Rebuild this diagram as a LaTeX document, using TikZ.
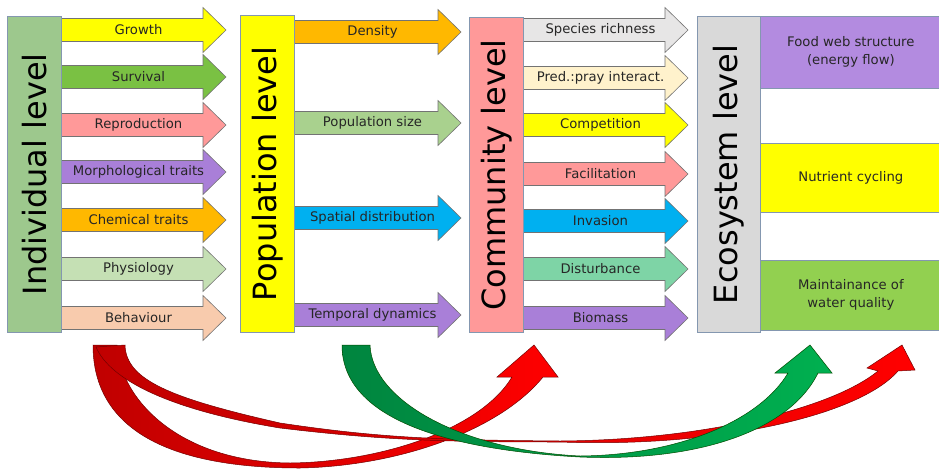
\documentclass[tikz,border=0pt]{standalone}
\usepackage{fontspec}
\setmainfont{DejaVu Sans}
\definecolor{cIndiv}{HTML}{9DC88D}
\definecolor{cPop}{HTML}{FFFF00}
\definecolor{cComm}{HTML}{FF9999}
\definecolor{cEco}{HTML}{D9D9D9}
\definecolor{cYellow}{HTML}{FFFF00}
\definecolor{cSurv}{HTML}{7AC143}
\definecolor{cSalmon}{HTML}{FF9999}
\definecolor{cPurple}{HTML}{A97FD8}
\definecolor{cOrange}{HTML}{FFB800}
\definecolor{cPhys}{HTML}{C5E0B4}
\definecolor{cPeach}{HTML}{F8CBAD}
\definecolor{cPopSize}{HTML}{A9D18E}
\definecolor{cBlue}{HTML}{00B0F0}
\definecolor{cGray}{HTML}{E7E6E6}
\definecolor{cCream}{HTML}{FFF2CC}
\definecolor{cDist}{HTML}{7ED4A6}
\definecolor{cFood}{HTML}{B38BE0}
\definecolor{cWater}{HTML}{92D050}
\definecolor{cBoxLine}{HTML}{8497B0}
\definecolor{cRedDark}{HTML}{C00000}
\definecolor{cRed}{HTML}{FF0000}
\definecolor{cGreenDark}{HTML}{00853F}
\definecolor{cGreen}{HTML}{00B050}
\tikzset{
  arr/.style={draw=black!55, line width=0.6pt},
  lbl/.style={font=\fontsize{13.2}{15}\selectfont, text=black!85, inner sep=0pt},
  lvlbox/.style={draw=cBoxLine, line width=0.7pt, inner sep=0pt, anchor=north west},
  lvltxt/.style={rotate=90, font=\fontsize{32}{36}\selectfont, inner sep=0pt},
  ecobox/.style={draw=cBoxLine, line width=0.7pt, anchor=north west, minimum width=181pt,
     align=center, font=\fontsize{13.2}{18}\selectfont, text=black!85, inner sep=0pt},
  redband/.style={left color=cRedDark, right color=cRed, draw=red!45!black, line width=0.5pt},
  greenband/.style={left color=cGreenDark, right color=cGreen, draw=green!30!black, line width=0.5pt},
}
% #1 name, #2 y centre, #3 x left, #4 x tip, #5 colour, #6 label
\newcommand\lvlarrow[6]{%
  \filldraw[arr, fill=#5] (#3,#2-11.5) -- (#4-23,#2-11.5) -- (#4-23,#2-22.5) -- (#4,#2)
     -- (#4-23,#2+22.5) -- (#4-23,#2+11.5) -- (#3,#2+11.5) -- cycle;
  \node[lbl] (#1) at ({(#3+#4)/2-5},#2) {#6};}
\begin{document}
\begin{tikzpicture}[x=1pt,y=-1pt]
\useasboundingbox (0,0) rectangle (939,469);
\fill[white] (0,0) rectangle (939,469);

% ---------- Individual level ----------
\lvlarrow{growth}{30}{61}{226}{cYellow}{Growth}
\lvlarrow{survival}{77}{61}{226}{cSurv}{Survival}
\lvlarrow{repro}{125}{61}{226}{cSalmon}{Reproduction}
\lvlarrow{morph}{172}{61}{226}{cPurple}{Morphological traits}
\lvlarrow{chem}{220}{61}{226}{cOrange}{Chemical traits}
\lvlarrow{phys}{269}{61}{226}{cPhys}{Physiology}
\lvlarrow{behav}{318}{61}{226}{cPeach}{Behaviour}
\node[lvlbox, fill=cIndiv, minimum width=54pt, minimum height=316pt] (indiv) at (7,16) {};
\node[lvltxt] (indivtxt) at (indiv.center) {Individual level};

% ---------- Population level ----------
\lvlarrow{density}{32}{294}{461}{cOrange}{Density}
\lvlarrow{popsize}{123}{294}{461}{cPopSize}{Population size}
\lvlarrow{spatial}{218}{294}{461}{cBlue}{Spatial distribution}
\lvlarrow{temporal}{315}{294}{461}{cPurple}{Temporal dynamics}
\node[lvlbox, fill=cPop, minimum width=54pt, minimum height=317pt] (pop) at (240,15) {};
\node[lvltxt] (poptxt) at (pop.center) {Population level};

% ---------- Community level ----------
\lvlarrow{species}{30}{523}{688}{cGray}{Species richness}
\lvlarrow{pred}{78}{523}{688}{cCream}{Pred.:pray interact.}
\lvlarrow{compet}{125}{523}{688}{cYellow}{Competition}
\lvlarrow{facil}{174}{523}{688}{cSalmon}{Facilitation}
\lvlarrow{invas}{221}{523}{688}{cBlue}{Invasion}
\lvlarrow{disturb}{269}{523}{688}{cDist}{Disturbance}
\lvlarrow{biomass}{318}{523}{688}{cPurple}{Biomass}
\node[lvlbox, fill=cComm, minimum width=54pt, minimum height=315pt] (comm) at (469,17) {};
\node[lvltxt] (commtxt) at (comm.center) {Community level};

% ---------- Ecosystem level ----------
\node[ecobox, fill=cFood, minimum height=72pt] (food) at (760,16) {Food web structure\\(energy flow)};
\node[ecobox, fill=cYellow, minimum height=69pt] (nutr) at (760,143) {Nutrient cycling};
\node[ecobox, fill=cWater, minimum height=70pt] (water) at (760,260) {Maintainance of\\water quality};
\node[lvlbox, fill=cEco, minimum width=63pt, minimum height=316pt] (eco) at (697,16) {};
\node[lvltxt] (ecotxt) at (eco.center) {Ecosystem level};

% ---------- curved arrows ----------
% big red arrow: individual -> community
\shadedraw[redband] (93,345) .. controls (93,430) and (170,468) .. (300,468)
   .. controls (400,466) and (500,430) .. (543,377)
   -- (558,377) -- (534,345) -- (497,377) -- (512,377)
   .. controls (480,430) and (380,462) .. (290,463)
   .. controls (180,462) and (120,400) .. (117,345) -- cycle;
% thin red arrow: individual -> ecosystem
\shadedraw[redband] (125,345) .. controls (126,380) and (170,398) .. (280,423)
   .. controls (380,438) and (440,440) .. (560,441)
   .. controls (700,440) and (830,410) .. (878,371)
   -- (867,368) -- (902,345) -- (915,370) -- (898,371)
   .. controls (860,415) and (720,448) .. (560,442)
   .. controls (440,442) and (380,440) .. (280,428)
   .. controls (170,410) and (110,380) .. (96,347) -- cycle;
% green arrow: population -> ecosystem
\shadedraw[greenband] (342,345) .. controls (342,420) and (450,450) .. (580,457)
   .. controls (700,462) and (790,430) .. (818,373)
   -- (832,373) -- (810,345) -- (775,373) -- (788,373)
   .. controls (760,420) and (680,455) .. (580,456)
   .. controls (460,450) and (372,400) .. (370,345) -- cycle;
\end{tikzpicture}
\end{document}
